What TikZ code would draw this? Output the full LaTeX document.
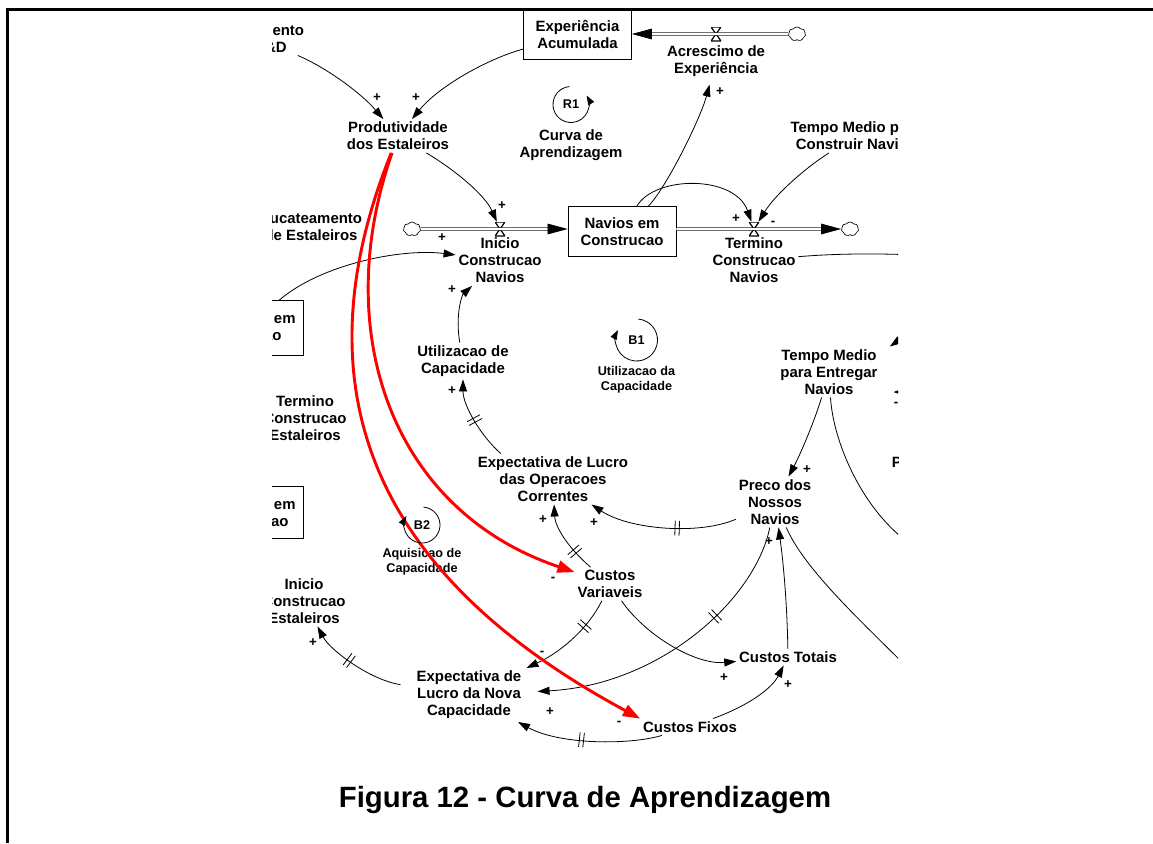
\documentclass[tikz,border=0pt]{standalone}
\usepackage{fontspec}
\setmainfont{Liberation Sans}
\usetikzlibrary{arrows.meta,positioning,calc,shapes.symbols,decorations.markings}
\tikzset{
  var/.style={
    align=center,
    inner sep=2pt,
    font=\fontsize{11.2}{12.8}\selectfont\bfseries
  },
  stock/.style={
    var,
    draw,
    rectangle,
    line width=0.6pt,
    minimum width=81pt,
    minimum height=37pt
  },
  stockcut/.style={
    var,
    draw,
    rectangle,
    line width=0.6pt,
    inner xsep=6pt,
    inner ysep=9pt
  },
  valve/.style={
    rectangle,
    minimum width=7.5pt,
    minimum height=10.5pt,
    inner sep=0pt,
    path picture={
      \draw[line width=0.9pt]
        (path picture bounding box.north west) -- (path picture bounding box.north east)
        -- (path picture bounding box.south west) -- (path picture bounding box.south east)
        -- cycle;
    }
  },
  cloudy/.style={
    cloud,
    cloud puffs=7,
    cloud puff arc=110,
    draw,
    line width=0.5pt,
    minimum width=13pt,
    minimum height=10.5pt,
    inner sep=0pt
  },
  pipe/.style={
    double,
    double distance=1.6pt,
    line width=0.5pt,
    -{Triangle[length=15pt,width=8pt]}
  },
  link/.style={-{Triangle[length=9pt,width=6pt]}, line width=0.6pt},
  wire/.style={line width=0.6pt},
  redlink/.style={-{Triangle[length=13pt,width=9pt]}, draw=red, line width=2.2pt},
  delaymark/.style={
    postaction={decorate},
    decoration={markings, mark=at position #1 with {
      \draw[-, line width=0.6pt, draw=black] (-1.6pt,-5.5pt) -- (-1.6pt,5.5pt) (1.6pt,-5.5pt) -- (1.6pt,5.5pt);
    }}
  },
  delaymark/.default=0.5,
  sign/.style={font=\fontsize{10}{10}\selectfont\bfseries, inner sep=0pt},
  looptag/.style={font=\fontsize{9.5}{10}\selectfont\bfseries, inner sep=1pt},
  loopline/.style={-{Triangle[length=7pt,width=5pt]}, line width=0.6pt},
  loopname/.style={var, font=\fontsize{9.5}{11.3}\selectfont\bfseries},
  figframe/.style={line width=1.8pt},
  figcaption/.style={font=\fontsize{22}{26}\selectfont\bfseries}
}

\begin{document}
\begin{tikzpicture}[x=0.75pt,y=-0.75pt]
  \useasboundingbox (0,0) rectangle (1153,843);
  \draw[figframe] (7.5,843) -- (7.5,9.5) -- (1153,9.5);

  \begin{scope}
    \clip (272,10.5) rectangle (898,760);

    \node[var] (invest) at (258,38.5) {Investimento\\em P\&D};
    \node[stock] (expAc) at (577.5,34.5) {Experiência\\Acumulada};
    \node[valve] (vAcr) at (716,34) {};
    \node[cloudy] (cloudA) at (797,34) {};
    \node[var, below=1pt of vAcr] (acresc) {Acrescimo de\\Experiência};
    \node[var] (prod) at (398,136) {Produtividade\\dos Estaleiros};
    \node[looptag] (r1) at (571,104.5) {R1};
    \node[var, below=12pt of r1] (curvaAp) {Curva de\\Aprendizagem};
    \node[var] (tmpCons) at (856,136) {Tempo Medio para\\Construir Navios};
    \node[var] (sucat) at (311,227) {Sucateamento\\de Estaleiros};
    \node[cloudy] (cloudB) at (412,229) {};
    \node[valve] (vIni) at (500,229) {};
    \node[var, below=-1pt of vIni] (iniN) {Inicio\\Construcao\\Navios};
    \node[stock] (navios) at (622,231.5) {Navios em\\Construcao};
    \node[valve] (vTerm) at (754,229) {};
    \node[var, below=-1pt of vTerm] (termN) {Termino\\Construcao\\Navios};
    \node[cloudy] (cloudC) at (850,229) {};
    \node[stockcut] (estOper) at (247,328) {Estaleiros em\\Operacao};
    \node[var] (util) at (463,361) {Utilizacao de\\Capacidade};
    \node[looptag] (b1) at (636.5,340) {B1};
    \node[loopname, below=13pt of b1] (utilCap) {Utilizacao da\\Capacidade};
    \node[var] (tmpEnt) at (829,372) {Tempo Medio\\para Entregar\\Navios};
    \node[var] (termE) at (305,418) {Termino\\Construcao\\Estaleiros};
    \node[var] (expOp) at (553,479) {Expectativa de Lucro\\das Operacoes\\Correntes};
    \node[var] (preco) at (775,502) {Preco dos\\Nossos\\Navios};
    \node[var, anchor=west] (precoCut) at (889,462) {P};
    \node[stockcut] (estCons) at (247,512.5) {Estaleiros em\\Construcao};
    \node[looptag] (b2) at (422,525) {B2};
    \node[loopname, below=10.5pt of b2] (aquis) {Aquisicao de\\Capacidade};
    \node[var] (custV) at (610,584) {Custos\\Variaveis};
    \node[var] (iniE) at (304,601) {Inicio\\Construcao\\Estaleiros};
    \node[var] (custT) at (788,657) {Custos Totais};
    \node[var, inner xsep=12pt] (expNova) at (469,695) {Expectativa de\\Lucro da Nova\\Capacidade};
    \node[var] (custF) at (690,727) {Custos Fixos};

    \coordinate (offT) at (915,255);
    \coordinate (offE) at (905,540);
    \coordinate (offP) at (915,675);
    \coordinate (offB) at (925,322);
    \coordinate (offC) at (930,392);

    \draw[pipe] (cloudA) -- (expAc.east |- vAcr);
    \draw[pipe] (cloudB) -- (navios.west |- vIni);
    \draw[pipe] (navios.east |- vTerm) -- (cloudC);

    \draw[link] (invest) .. controls (325,67) and (360,92) .. (prod);
    \draw[link] (expAc) .. controls (490,58) and (440,85) .. (prod);
    \draw[link] (prod) .. controls (455,170) and (485,195) .. (vIni);
    \draw[link, shorten >=4pt] (navios) .. controls (665,190) and (700,120) .. (acresc);
    \draw[link] (navios) .. controls (655,175) and (735,175) .. (vTerm);
    \draw[link] (tmpCons) .. controls (805,168) and (775,195) .. (vTerm);
    \draw[link] (estOper) .. controls (320,265) and (400,248) .. (iniN);
    \draw[link] (util) .. controls (455,315) and (462,295) .. (iniN);
    \draw[link, delaymark] (expOp.154) .. controls (480,435) and (463,405) .. (util);
    \draw[link, delaymark=0.3] (custV) .. controls (565,545) and (555,525) .. (expOp);
    \draw[link, delaymark=0.4] (preco) .. controls (700,535) and (630,530) .. (expOp);
    \draw[link] (tmpEnt) .. controls (815,420) and (800,455) .. (preco);
    \draw[link] (custT) .. controls (787,600) and (783,560) .. (preco);
    \draw[link, delaymark=0.35] (preco) .. controls (755,600) and (660,685) .. (expNova);
    \draw[link, delaymark=0.3] (custV) .. controls (590,625) and (565,650) .. (expNova);
    \draw[link] (custV) .. controls (645,635) and (695,665) .. (custT);
    \draw[link] (custF) .. controls (750,705) and (772,688) .. (custT);
    \draw[link, delaymark=0.55] (custF) .. controls (630,745) and (560,745) .. (expNova);
    \draw[link, delaymark=0.55] (expNova) .. controls (370,680) and (330,650) .. (iniE);
    \draw[wire] (termN) .. controls (830,254) and (870,253) .. (offT);
    \draw[wire] (tmpEnt) .. controls (833,440) and (860,505) .. (offE);
    \draw[wire] (preco) .. controls (805,570) and (860,620) .. (offP);
    \draw[link] (offB) -- ([xshift=7pt]tmpEnt.north east);
    \draw[link] (offC) -- ($(tmpEnt.east |- offC)+(13,0)$);

    \draw[redlink] (prod) .. controls (330,330) and (390,510) .. (custV);
    \draw[redlink] (prod) .. controls (280,430) and (420,600) .. (custF.north west);

    \draw[loopline] (r1.center) ++(95:13.5pt) arc[start angle=95, end angle=390, radius=13.5pt];
    \draw[loopline] (b1.center) ++(85:15.75pt) arc[start angle=85, end angle=-208, radius=15.75pt];
    \draw[loopline] (b2.center) ++(85:13.5pt) arc[start angle=85, end angle=-210, radius=13.5pt];

    \node[sign] (sgInvest) at (377,98) {+};
    \node[sign] (sgExpAc) at (416,98) {+};
    \node[sign] (sgAcresc) at (720,92) {+};
    \node[sign] (sgProdIni) at (502,206) {+};
    \node[sign] (sgEstOper) at (442,238) {+};
    \node[sign] (sgUtil) at (452,290) {+};
    \node[sign] (sgNavTerm) at (736,219) {+};
    \node[sign] (sgTmpCons) at (773,223) {-};
    \node[sign] (sgExpOp) at (452,391) {+};
    \node[sign] (sgCustV) at (543,520) {+};
    \node[sign] (sgPrecoOp) at (594,523) {+};
    \node[sign] (sgTmpEnt) at (807,470) {+};
    \node[sign] (sgCustT) at (769,542) {+};
    \node[sign] (sgRedV) at (553,579) {-};
    \node[sign] (sgVNova) at (542,653) {-};
    \node[sign] (sgIniE) at (313,643) {+};
    \node[sign] (sgPrecoNova) at (550,712) {+};
    \node[sign] (sgVTot) at (724,678) {+};
    \node[sign] (sgFTot) at (788,685) {+};
    \node[sign] (sgRedF) at (619,723) {-};
    \node[sign] (sgOffC) at (896,404) {-};
  \end{scope}

  \node[figcaption] (caption) at (585,800) {Figura 12 - Curva de Aprendizagem};
\end{tikzpicture}
\end{document}
